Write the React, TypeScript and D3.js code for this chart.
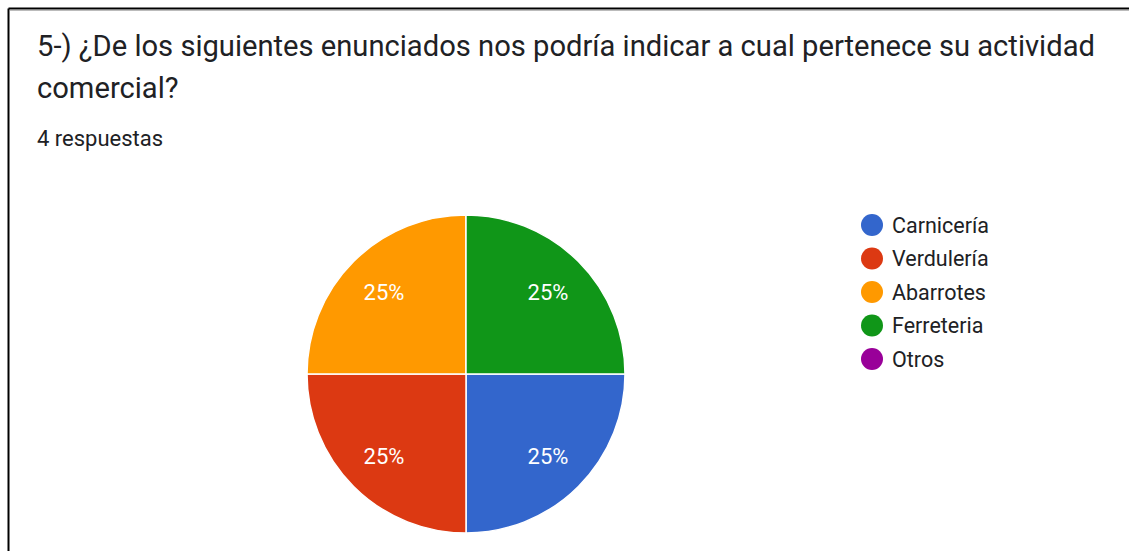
import React from "react";
import * as d3 from "d3";

const title1 = "5-) ¿De los siguientes enunciados nos podría indicar a cual pertenece su actividad";
const title2 = "comercial?";
const subtitle = "4 respuestas";
const categories = ["Carnicería", "Verdulería", "Abarrotes", "Ferreteria", "Otros"];
const values = [1, 1, 1, 1, 0];
const colors = ["#3366cc", "#dc3912", "#ff9900", "#109618", "#990099"];

const W = 1129;
const H = 551;

export default function App() {
  const cx = 466;
  const cy = 374;
  const r = 159;
  const total = d3.sum(values);
  const pie = d3
    .pie<number>()
    .sort(null)
    .value((d) => d)
    .startAngle(Math.PI / 2)
    .endAngle(Math.PI / 2 + 2 * Math.PI);
  const arcs = pie(values);
  const arc = d3.arc<d3.PieArcDatum<number>>().innerRadius(0).outerRadius(r);
  const labelArc = d3.arc<d3.PieArcDatum<number>>().innerRadius(116).outerRadius(116);
  const legendY = d3.scaleLinear().domain([0, 1]).range([225, 258.5]);
  const font = "Roboto, Arial, sans-serif";

  return (
    <div style={{ position: "fixed", left: 0, top: 0, width: W, height: H, background: "#fff" }}>
      <svg width={W} height={H} style={{ display: "block" }}>
        <rect x={0} y={0} width={W} height={H} fill="#fff" />
        <line x1={8.5} y1={8.5} x2={W + 5} y2={8.5} stroke="#000" strokeWidth={2} />
        <line x1={8.5} y1={8.5} x2={8.5} y2={H + 5} stroke="#000" strokeWidth={2} />
        <line x1={10} y1={10.5} x2={W} y2={10.5} stroke="#bbb" strokeWidth={1} />
        <text x={37} y={56} fontFamily={font} fontSize={29.15} fill="#202124">{title1}</text>
        <text x={37} y={98} fontFamily={font} fontSize={29.15} fill="#202124">{title2}</text>
        <text x={37} y={146} fontFamily={font} fontSize={22} fill="#202124">{subtitle}</text>
        <g transform={`translate(${cx},${cy})`}>
          {arcs.map((a, i) =>
            a.value > 0 ? (
              <path key={i} d={arc(a) || ""} fill={colors[i]} stroke="#fff" strokeWidth={1.5} />
            ) : null
          )}
          {arcs.map((a, i) => {
            if (a.value <= 0) return null;
            const [lx, ly] = labelArc.centroid(a);
            return (
              <text
                key={"l" + i}
                x={lx}
                y={ly}
                dy="0.35em"
                textAnchor="middle"
                fontFamily={font}
                fontSize={22}
                fill="#fff"
              >
                {`${Math.round((a.value / total) * 100)}%`}
              </text>
            );
          })}
        </g>
        <g>
          {categories.map((c, i) => (
            <g key={c}>
              <circle cx={872} cy={legendY(i)} r={11} fill={colors[i]} />
              <text x={892} y={legendY(i)} dy="0.35em" fontFamily={font} fontSize={21.5} fill="#202124">
                {c}
              </text>
            </g>
          ))}
        </g>
      </svg>
    </div>
  );
}
